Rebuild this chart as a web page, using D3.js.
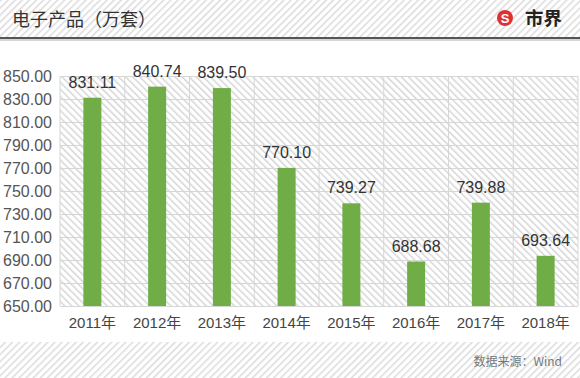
<!DOCTYPE html>
<html>
<head>
<meta charset="utf-8">
<script src="https://cdn.jsdelivr.net/npm/d3@7"></script>
<style>
  html, body { margin: 0; padding: 0; background: #fff; }
  svg { display: block; font-family: "Liberation Sans", Arial, "Noto Sans CJK SC", sans-serif; }
</style>
</head>
<body>
<div id="chart"></div>
<script>
const width = 580;
const height = 378;

// data
const years = ['2011年', '2012年', '2013年', '2014年', '2015年', '2016年', '2017年', '2018年'];
const values = [831.11, 840.74, 839.50, 770.10, 739.27, 688.68, 739.88, 693.64];
const yTicks = [650, 670, 690, 710, 730, 750, 770, 790, 810, 830, 850];

const margin = { top: 76, right: 2, bottom: 72, left: 60 };

const svg = d3.select('#chart').append('svg').attr('width', width).attr('height', height);
const defs = svg.append('defs');

// striped fills ================================================
function stripes(id, angle, color, gap) {
	const p = defs.append('pattern')
		.attr('id', id)
		.attr('patternUnits', 'userSpaceOnUse')
		.attr('width', gap)
		.attr('height', gap)
		.attr('patternTransform', `rotate(${angle})`);
	p.append('rect').attr('width', gap).attr('height', gap).attr('fill', '#fff');
	p.append('line')
		.attr('x1', 0.75).attr('y1', 0).attr('x2', 0.75).attr('y2', gap)
		.attr('stroke', color).attr('stroke-width', 1.3);
}
stripes('bandHatch', 45, '#d6d6d6', 5);
stripes('plotHatch', -45, '#d0d0d0', 5);

// header band
svg.append('rect').attr('x', 0).attr('y', 0).attr('width', width).attr('height', 37).attr('fill', 'url(#bandHatch)');
svg.append('rect').attr('x', 0).attr('y', 37).attr('width', width).attr('height', 2).attr('fill', '#555');
svg.append('rect').attr('x', 0).attr('y', 39).attr('width', width).attr('height', 2).attr('fill', '#d6d6d6');

svg.append('text')
	.attr('x', 12).attr('y', 26)
	.attr('font-size', 18)
	.attr('fill', '#333')
	.attr('font-family', '"Noto Sans CJK SC", sans-serif')
	.text('电子产品（万套）');

// logo
const logo = svg.append('g').attr('transform', 'translate(505,18)');
logo.append('circle').attr('r', 8).attr('fill', '#e03131');
logo.append('text')
	.attr('text-anchor', 'middle').attr('y', 4.5)
	.attr('font-size', 13).attr('font-weight', 'bold').attr('fill', '#fff')
	.text('S');
svg.append('text')
	.attr('x', 525).attr('y', 25)
	.attr('font-size', 18.5).attr('font-weight', 'bold').attr('fill', '#222')
	.attr('font-family', '"Noto Sans CJK SC", sans-serif')
	.text('市界');

// footer band
svg.append('rect').attr('x', 0).attr('y', 342).attr('width', width).attr('height', height - 342).attr('fill', 'url(#bandHatch)');
svg.append('text')
	.attr('x', 562).attr('y', 366)
	.attr('text-anchor', 'end')
	.attr('font-size', 12)
	.attr('fill', '#777')
	.attr('font-family', '"Noto Sans CJK SC", sans-serif')
	.text('数据来源：Wind');

// Bar chart ====================================================
const chartWidth = width - margin.left - margin.right;
const chartHeight = height - margin.top - margin.bottom;
const chart = svg.append('g').attr('transform', `translate(${margin.left}, ${margin.top})`);

const xScale = d3.scaleBand().domain(years).range([0, chartWidth]).paddingInner(0).paddingOuter(0);
const yScale = d3.scaleLinear().domain([650, 850]).range([chartHeight, 0]);

chart.append('rect').attr('width', chartWidth).attr('height', chartHeight).attr('fill', 'url(#plotHatch)');

// horizontal grid + y labels
const yAxis = d3.axisLeft(yScale).tickValues(yTicks).tickFormat(d3.format('.2f')).tickSize(-chartWidth).tickPadding(8);
const gy = chart.append('g').call(yAxis);
gy.select('.domain').remove();
gy.selectAll('line').attr('stroke', '#d6d6d6');
gy.selectAll('text').attr('font-size', 16).attr('fill', '#555').attr('font-family', '"Liberation Sans", Arial, sans-serif');

// vertical grid
chart.append('g')
	.selectAll('line')
	.data(years.concat(['end']))
	.join('line')
	.attr('x1', (d, i) => i * xScale.step())
	.attr('x2', (d, i) => i * xScale.step())
	.attr('y1', 0)
	.attr('y2', chartHeight)
	.attr('stroke', '#d6d6d6');

// x labels
const xAxis = d3.axisBottom(xScale).tickSize(0).tickPadding(11);
const gx = chart.append('g').attr('transform', `translate(0, ${chartHeight})`).call(xAxis);
gx.select('.domain').remove();
gx.selectAll('text').attr('font-size', 15).attr('fill', '#444').attr('font-family', '"Liberation Sans", "Noto Sans CJK SC", sans-serif');

const barW = 18;
chart.selectAll('.bar')
	.data(values)
	.join('rect')
	.attr('class', 'bar')
	.attr('x', (d, i) => xScale(years[i]) + xScale.bandwidth() / 2 - barW / 2)
	.attr('y', (d) => yScale(d))
	.attr('width', barW)
	.attr('height', (d) => chartHeight - yScale(d))
	.attr('fill', '#70ad47');

chart.selectAll('.val')
	.data(values)
	.join('text')
	.attr('class', 'val')
	.attr('x', (d, i) => xScale(years[i]) + xScale.bandwidth() / 2)
	.attr('y', (d) => yScale(d) - 10)
	.attr('text-anchor', 'middle')
	.attr('font-size', 16)
	.attr('fill', '#333')
	.text((d) => d.toFixed(2));
</script>
</body>
</html>
